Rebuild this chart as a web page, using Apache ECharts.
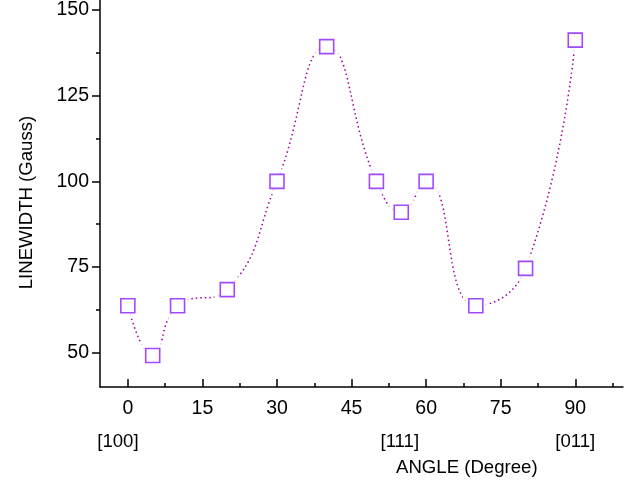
<!DOCTYPE html>
<html><head><meta charset="utf-8">
<script src="https://cdn.jsdelivr.net/npm/echarts@6/dist/echarts.min.js"></script>
<style>html,body{margin:0;padding:0;background:#fff}#c{width:637px;height:480px}</style>
</head><body><div id="c"></div>
<script>
const angles = [0, 5, 10, 20, 30, 40, 50, 55, 60, 70, 80, 90];
const linewidths = [63.7, 49.2, 63.7, 68.4, 100, 139.3, 100, 91, 100, 63.7, 74.6, 141.2];
const xMajorTicks = [0, 15, 30, 45, 60, 75, 90];
const xMinorTicks = [7.5, 22.5, 37.5, 52.5, 67.5, 82.5, 97.5];
const yMajorTicks = [50, 75, 100, 125, 150];
const yMinorTicks = [62.5, 87.5, 112.5, 137.5];
const directionPos = [-2, 54.7, 90];
const directionLabels = ['[100]', '[111]', '[011]'];

const FONT = 'Liberation Sans, Arial, sans-serif';
const pts = angles.map((a, i) => [a, linewidths[i]]);
const X_MIN = -5.6, X_MAX = 99.6, Y_MIN = 40, Y_MAX = 152.9;

const chart = echarts.init(document.getElementById('c'));
const baseX = { type: 'value', min: X_MIN, max: X_MAX, gridIndex: 0, position: 'bottom', splitLine: { show: false } };
const baseY = { type: 'value', min: Y_MIN, max: Y_MAX, gridIndex: 0, position: 'left', splitLine: { show: false } };
chart.setOption({
  animation: false,
  backgroundColor: '#fff',
  grid: { left: 100, right: 14, top: 0, bottom: 93 },
  title: { text: 'ANGLE (Degree)', left: 391, top: 453,
    textStyle: { fontFamily: FONT, fontSize: 18.6, fontWeight: 'normal', color: '#000' } },
  xAxis: [
    Object.assign({}, baseX, {
      axisLine: { show: true, onZero: false, lineStyle: { color: '#000', width: 1.5 } },
      axisTick: { show: true, inside: true, length: 8, customValues: xMajorTicks, lineStyle: { color: '#000', width: 1.5 } },
      axisLabel: { show: true, customValues: xMajorTicks, margin: 12, fontFamily: FONT, fontSize: 19.5, color: '#000' }
    }),
    Object.assign({}, baseX, {
      axisLine: { show: false, onZero: false },
      axisTick: { show: true, inside: true, length: 4, customValues: xMinorTicks, lineStyle: { color: '#000', width: 1.5 } },
      axisLabel: { show: false }
    }),
    Object.assign({}, baseX, {
      axisLine: { show: false, onZero: false },
      axisTick: { show: false },
      axisLabel: { show: true, customValues: directionPos, margin: 45, fontFamily: FONT, fontSize: 18.6, color: '#000',
        formatter: v => { const i = directionPos.indexOf(v); return i >= 0 ? directionLabels[i] : ''; } }
    })
  ],
  yAxis: [
    Object.assign({}, baseY, {
      name: 'LINEWIDTH (Gauss)', nameLocation: 'middle', nameGap: 64,
      nameTextStyle: { fontFamily: FONT, fontSize: 18.6, color: '#000', padding: [0, 18, 0, 0] },
      axisLine: { show: true, onZero: false, lineStyle: { color: '#000', width: 1.5 } },
      axisTick: { show: true, inside: false, length: 8, customValues: yMajorTicks, lineStyle: { color: '#000', width: 1.5 } },
      axisLabel: { show: true, customValues: yMajorTicks, margin: 11, fontFamily: FONT, fontSize: 19.5, color: '#000' }
    }),
    Object.assign({}, baseY, {
      axisLine: { show: false, onZero: false },
      axisTick: { show: true, inside: false, length: 4, customValues: yMinorTicks, lineStyle: { color: '#000', width: 1.5 } },
      axisLabel: { show: false }
    })
  ],
  series: [
    { type: 'line', data: pts, smooth: 0.5, showSymbol: false, symbol: 'none',
      lineStyle: { color: '#990099', width: 1.5, type: [1.5, 3] }, z: 2 },
    { type: 'scatter', data: pts, symbol: 'rect', symbolSize: 26,
      itemStyle: { color: '#fff', borderWidth: 0 }, z: 3, silent: true },
    { type: 'scatter', data: pts, symbol: 'rect', symbolSize: 14,
      itemStyle: { color: '#fff', borderColor: '#8a1cff', borderWidth: 1.6 }, z: 4 }
  ]
});
</script></body></html>
